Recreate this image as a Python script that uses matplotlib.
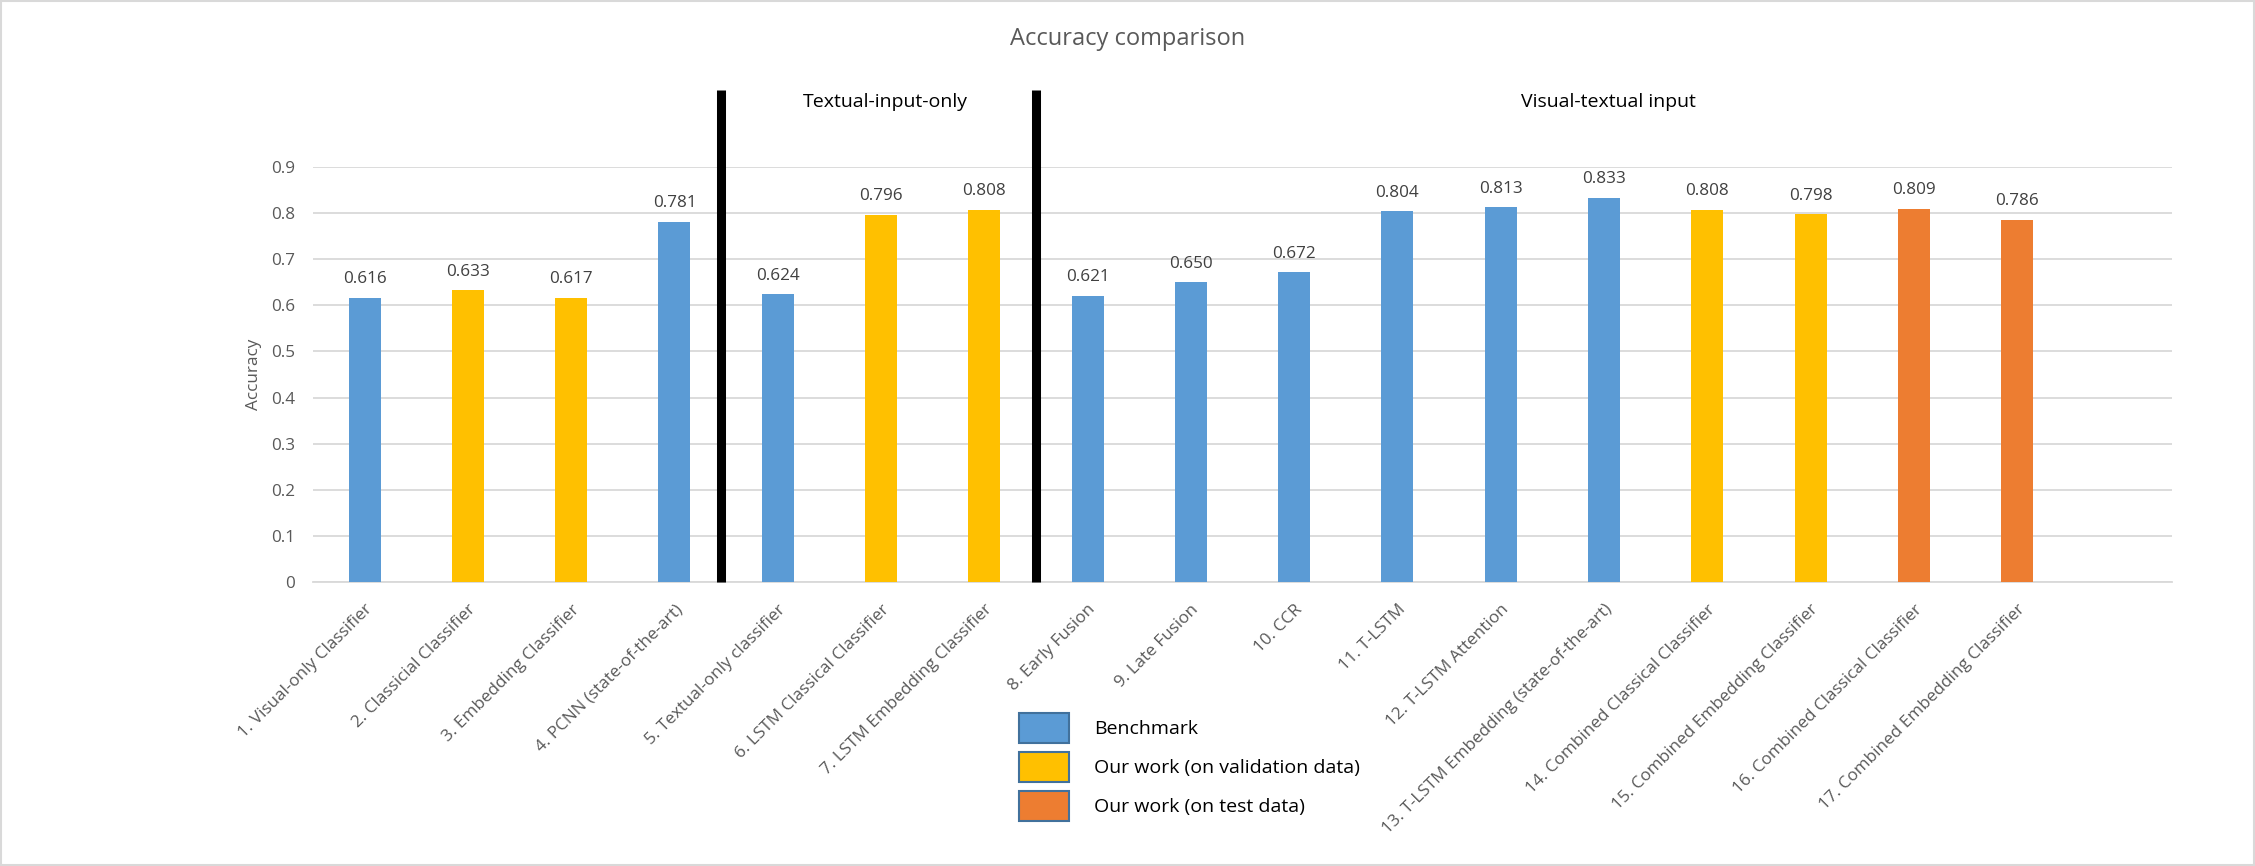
import matplotlib
matplotlib.use("Agg")
import matplotlib.pyplot as plt
from matplotlib.patches import Patch, Rectangle
import numpy as np

plt.rcParams['font.family'] = ['Open Sans', 'DejaVu Sans']

# Chart data
labels = ["1. Visual-only Classifier", "2. Classicial Classifier", "3. Embedding Classifier",
          "4. PCNN (state-of-the-art)", "5. Textual-only classifier", "6. LSTM Classical Classifier",
          "7. LSTM Embedding Classifier", "8. Early Fusion", "9. Late Fusion", "10. CCR",
          "11. T-LSTM", "12. T-LSTM Attention", "13. T-LSTM Embedding (state-of-the-art)",
          "14. Combined Classical Classifier", "15. Combined Embedding Classifier",
          "16. Combined Classical Classifier", "17. Combined Embedding Classifier"]
accuracy = [0.616, 0.633, 0.617, 0.781, 0.624, 0.796, 0.808, 0.621, 0.650, 0.672,
            0.804, 0.813, 0.833, 0.808, 0.798, 0.809, 0.786]
group = ["bench", "val", "val", "bench", "bench", "val", "val", "bench", "bench", "bench",
         "bench", "bench", "bench", "val", "val", "test", "test"]
group_names = ["Benchmark", "Our work (on validation data)", "Our work (on test data)"]
sections = ["Textual-input-only", "Visual-textual input"]
yticks = [0, 0.1, 0.2, 0.3, 0.4, 0.5, 0.6, 0.7, 0.8, 0.9]

colors = {"bench": "#5B9BD5", "val": "#FFC000", "test": "#ED7D31"}
grey = "#595959"

fig = plt.figure(figsize=(22.55, 8.66), dpi=100)
ax = fig.add_axes([0.1388, 0.328, 0.8244, 0.479])

x = np.arange(len(accuracy))
bars = ax.bar(x, accuracy, 0.31, color=[colors[g] for g in group], zorder=3)

for xi, v in zip(x, accuracy):
    ax.annotate("%.3f" % v, (xi, v), xytext=(0, 10.5), textcoords="offset points",
                ha="center", va="baseline", fontsize=12.3, color="#404040")

ax.set_xlim(-0.5, 17.5)
ax.set_ylim(0, 0.9)
ax.set_yticks(yticks)
ax.set_yticklabels(["0" if t == 0 else "%g" % t for t in yticks])
ax.set_xticks(x)
ax.set_xticklabels(labels, rotation=45, ha="right", va="top", rotation_mode="anchor")
ax.tick_params(axis="both", length=0, labelsize=12.3, labelcolor=grey)
ax.tick_params(axis="y", pad=13)
ax.tick_params(axis="x", pad=14)
ax.set_ylabel("Accuracy", fontsize=12.3, color=grey, labelpad=6)

ax.yaxis.grid(True, color="#D9D9D9", linewidth=1.3, zorder=0)
ax.set_axisbelow(True)
for s in ["top", "right", "left"]:
    ax.spines[s].set_visible(False)
ax.spines["bottom"].set_color("#D9D9D9")
ax.spines["bottom"].set_linewidth(1.3)

# section dividers and headings
for xd in [3.45, 6.5]:
    ax.plot([xd, xd], [0, 1.067], color="black", linewidth=6.5, clip_on=False,
            solid_capstyle="butt", zorder=4)
ax.text(5.04, 1.041, sections[0], ha="center", va="center", fontsize=14, color="black")
ax.text(12.04, 1.041, sections[1], ha="center", va="center", fontsize=14, color="black")

fig.text(0.5, 1 - 39 / 866, "Accuracy comparison", ha="center", va="center",
         fontsize=17, color=grey)

handles = [Patch(facecolor=colors[k], edgecolor="#41719C", linewidth=1.5)
           for k in ["bench", "val", "test"]]
fig.legend(handles, group_names, loc="upper left", bbox_to_anchor=(1019 / 2255, 1 - 713 / 866),
           frameon=False, fontsize=14, handlelength=2.55, handleheight=2.0,
           handletextpad=1.3, labelspacing=0.45, borderpad=0, borderaxespad=0)

fig.add_artist(Rectangle((0.0005, 0.001), 0.999, 0.998, transform=fig.transFigure,
                         fill=False, edgecolor="#D9D9D9", linewidth=1.5))

fig.savefig("out.png", dpi=100)
